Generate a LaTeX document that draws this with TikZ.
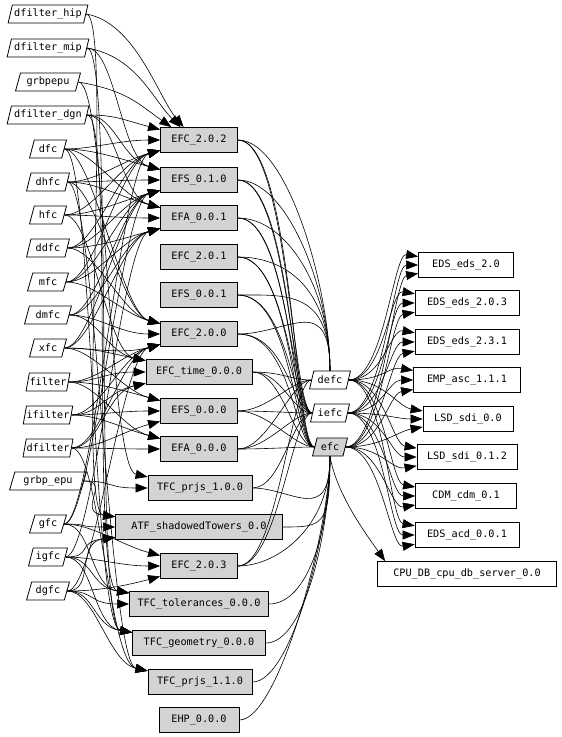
\documentclass[tikz,border=0pt]{standalone}
\usepackage{fontspec}
\setmonofont{DejaVu Sans Mono}
\usetikzlibrary{shapes.geometric,arrows.meta}
\definecolor{boxgray}{RGB}{211,211,211}
\begin{document}
\begin{tikzpicture}[x=1pt,y=-1pt,
  every node/.style={font=\ttfamily\fontsize{10.2}{12}\selectfont},
  para/.style={draw, line width=0.8pt, shape=trapezium, trapezium left angle=72,
    trapezium right angle=108, trapezium stretches=true, minimum height=18pt,
    inner xsep=0pt, inner ysep=1pt, minimum width=#1},
  gbox/.style={draw, line width=0.8pt, fill=boxgray, minimum height=25pt,
    inner xsep=2pt, minimum width=#1},
  wbox/.style={draw, line width=0.8pt, fill=white, minimum height=25pt,
    inner xsep=2pt, minimum width=#1},
  dep/.style={line width=0.6pt, -{Triangle[length=12pt,width=9pt]}},
  usel/.style={line width=0.6pt}]
\useasboundingbox (0,0) rectangle (562,737);
% left inputs
\node[para=80pt] (hip) at (48,14) {dfilter\_hip};
\node[para=82pt] (mip) at (48,48) {dfilter\_mip};
\node[para=65pt] (grbpepu) at (48,82) {grbpepu};
\node[para=82pt] (dgn) at (48,115) {dfilter\_dgn};
\node[para=37pt] (dfc) at (48,149) {dfc};
\node[para=43pt] (dhfc) at (48,182) {dhfc};
\node[para=37pt] (hfc) at (48,215) {hfc};
\node[para=43pt] (ddfc) at (48,248) {ddfc};
\node[para=41pt] (mfc) at (48,282) {mfc};
\node[para=47pt] (dmfc) at (48,315) {dmfc};
\node[para=37pt] (xfc) at (48,348) {xfc};
\node[para=44pt] (filter) at (48,382) {filter};
\node[para=49pt] (ifilter) at (48,415) {ifilter};
\node[para=50pt] (dfilter) at (48,448) {dfilter};
\node[para=77pt] (grbpepuB) at (48,481) {grbp\_epu};
\node[para=37pt] (gfc) at (48,524) {gfc};
\node[para=39pt] (igfc) at (48,557) {igfc};
\node[para=43pt] (dgfc) at (48,591) {dgfc};
% gray packages
\node[gbox=77pt] (EFC202) at (199,140) {EFC\_2.0.2};
\node[gbox=77pt] (EFS010) at (199,180) {EFS\_0.1.0};
\node[gbox=77pt] (EFA001) at (199,218) {EFA\_0.0.1};
\node[gbox=77pt] (EFC201) at (199,257) {EFC\_2.0.1};
\node[gbox=77pt] (EFS001) at (199,295) {EFS\_0.0.1};
\node[gbox=77pt] (EFC200) at (199,334) {EFC\_2.0.0};
\node[gbox=106pt] (EFCtime) at (199,372) {EFC\_time\_0.0.0};
\node[gbox=77pt] (EFS000) at (199,411) {EFS\_0.0.0};
\node[gbox=77pt] (EFA000) at (199,449) {EFA\_0.0.0};
\node[gbox=104pt] (TFCp100) at (200,488) {TFC\_prjs\_1.0.0};
\node[gbox=167pt] (ATF) at (199,527) {ATF\_shadowedTowers\_0.0};
\node[gbox=77pt] (EFC203) at (199,566) {EFC\_2.0.3};
\node[gbox=139pt] (TFCtol) at (199,604) {TFC\_tolerances\_0.0.0};
\node[gbox=133pt] (TFCgeo) at (199,643) {TFC\_geometry\_0.0.0};
\node[gbox=104pt] (TFCp110) at (200,682) {TFC\_prjs\_1.1.0};
\node[gbox=80pt] (EHP) at (199,720) {EHP\_0.0.0};
% middle programs
\node[para=41pt] (defc) at (330,380) {defc};
\node[para=39pt] (iefc) at (330,413) {iefc};
\node[para=35pt, fill=boxgray] (efc) at (330,447) {efc};
% right packages
\node[wbox=95pt] (R1) at (466,265) {EDS\_eds\_2.0};
\node[wbox=104pt] (R2) at (467,303) {EDS\_eds\_2.0.3};
\node[wbox=104pt] (R3) at (467,342) {EDS\_eds\_2.3.1};
\node[wbox=107pt] (R4) at (467,380) {EMP\_asc\_1.1.1};
\node[wbox=90pt] (R5) at (468,419) {LSD\_sdi\_0.0};
\node[wbox=100pt] (R6) at (467,457) {LSD\_sdi\_0.1.2};
\node[wbox=101pt] (R7) at (466,496) {CDM\_cdm\_0.1};
\node[wbox=104pt] (R8) at (467,535) {EDS\_acd\_0.0.1};
\node[wbox=179pt] (R9) at (467,574) {CPU\_DB\_cpu\_db\_server\_0.0};
% left dependencies arriving from the top
\foreach \s/\t/\a in {hip/EFC202/140, mip/EFC202/145, grbpepu/EFC202/155}
  \draw[dep] (\s.east) to[out=-10, in=\a-10, out distance=50pt, in distance=40pt] (\t.\a);
% left dependencies
\foreach \s/\t/\a in {
  hip/ATF/173,
  mip/EFS010/165, mip/TFCgeo/171,
  grbpepu/TFCp100/168,
  dgn/EFC202/165, dgn/EFS010/165, dgn/EFA001/165, dgn/TFCtol/171,
  dfc/EFC202/180, dfc/EFS010/165, dfc/EFA001/165, dfc/EFC200/165, dfc/TFCgeo/171,
  dhfc/EFC202/195, dhfc/EFS010/180, dhfc/EFA001/165, dhfc/EFC200/165, dhfc/TFCp110/168,
  hfc/EFC202/195, hfc/EFS010/195, hfc/EFA001/180, hfc/EFCtime/168,
  ddfc/EFC202/195, ddfc/EFS010/195, ddfc/EFA001/195, ddfc/EFC200/165,
  mfc/EFC202/195, mfc/EFS010/195, mfc/EFA001/195, mfc/EFC200/165,
  dmfc/EFS010/195, dmfc/EFA001/195, dmfc/EFC200/180, dmfc/EFCtime/168,
  xfc/EFS010/195, xfc/EFA001/195, xfc/EFC200/195, xfc/EFCtime/168, xfc/EFS000/165,
  filter/EFC200/195, filter/EFCtime/180, filter/EFS000/165, filter/EFA000/165,
  ifilter/EFC200/195, ifilter/EFCtime/192, ifilter/EFS000/180, ifilter/EFA000/165,
  dfilter/EFC200/195, dfilter/EFCtime/192, dfilter/EFS000/195, dfilter/EFA000/180, dfilter/TFCp110/168,
  grbpepuB/TFCp100/180, grbpepuB/ATF/173,
  gfc/ATF/180, gfc/EFC203/165, gfc/TFCtol/171, gfc/EFC202/195, gfc/EFS010/195,
  igfc/ATF/187, igfc/EFC203/180, igfc/TFCtol/171, igfc/TFCgeo/171, igfc/EFA001/195,
  dgfc/ATF/187, dgfc/EFC203/195, dgfc/TFCtol/180, dgfc/TFCgeo/171, dgfc/TFCp110/168, dgfc/EFC200/195}
  \draw[dep] (\s.east) to[out=0, in=\a, out distance=28pt, in distance=40pt] (\t.\a);
% packages to middle programs
\foreach \s in {EFC202,EFS010,EFA001,EFC201,EFS001,EFC200} {
  \draw[usel] (\s.east) to[out=0, in=90, out distance=50pt, in distance=80pt] (defc.north);
  \draw[usel] (\s.east) to[out=0, in=180, out distance=50pt, in distance=20pt] (iefc.west);
  \draw[usel] (\s.east) to[out=0, in=180, out distance=55pt, in distance=20pt] (efc.west);
}
\foreach \s in {EFCtime,EFS000,EFA000} {
  \draw[usel] (\s.east) to[out=0, in=180, out distance=30pt, in distance=20pt] (defc.west);
  \draw[usel] (\s.east) to[out=0, in=180, out distance=30pt, in distance=20pt] (iefc.west);
  \draw[usel] (\s.east) to[out=0, in=180, out distance=30pt, in distance=20pt] (efc.west);
}
\draw[usel] (TFCp100.east) to[out=0, in=180, out distance=30pt, in distance=20pt] (iefc.west);
\draw[usel] (EFC203.east) to[out=0, in=180, out distance=40pt, in distance=20pt] (defc.west);
\draw[usel] (EFC203.east) to[out=0, in=180, out distance=40pt, in distance=20pt] (iefc.west);
\foreach \s in {TFCp100,ATF,EFC203,TFCtol,TFCgeo,TFCp110,EHP}
  \draw[usel] (\s.east) to[out=0, in=-90, out distance=40pt, in distance=70pt] (efc.south);
% middle programs to right packages
\foreach \t in {R1,R2,R3,R4,R5,R6,R7,R8} {
  \draw[dep] (defc.east) to[out=0, in=170, out distance=35pt, in distance=25pt] (\t.170);
  \draw[dep] (iefc.east) to[out=0, in=180, out distance=35pt, in distance=25pt] (\t.west);
  \draw[dep] (efc.east) to[out=0, in=190, out distance=35pt, in distance=25pt] (\t.190);
}
\draw[dep] (efc.south) to[out=-80, in=125, out distance=40pt, in distance=30pt] ([xshift=8pt]R9.north west);
\end{tikzpicture}
\end{document}
